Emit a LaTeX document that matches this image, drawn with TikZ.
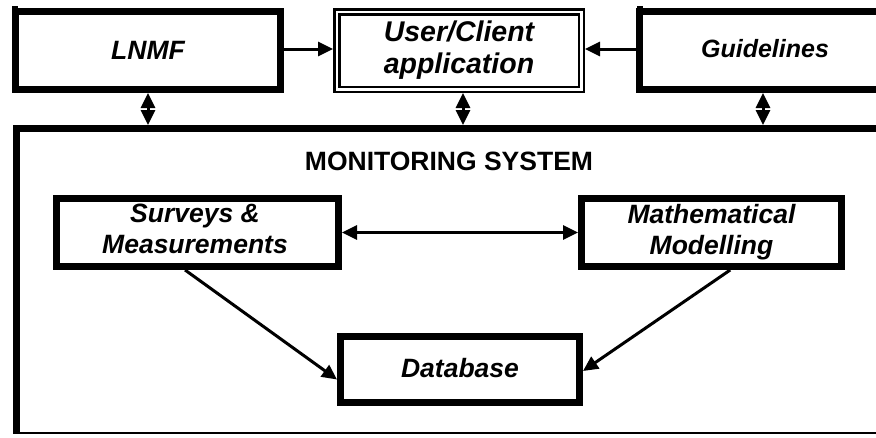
\documentclass[tikz,border=0pt]{standalone}
\usepackage{fontspec}
\setmainfont{Liberation Sans}
\usetikzlibrary{arrows.meta,calc}

\tikzset{
  heavybox/.style={draw, line width=7pt, outer sep=3.5pt, inner sep=0pt, fill=white},
  dblbox/.style={draw, line width=2.5pt, double, double distance=2.5pt, outer sep=3.75pt, inner sep=0pt},
  lbl/.style={inner sep=0pt, anchor=base, align=center,
              font=\fontsize{26.5}{31}\selectfont\bfseries\itshape},
  flow/.style={line width=3pt, -{Triangle[length=15pt,width=14pt]}},
  twoway/.style={line width=3pt, {Triangle[length=15pt,width=14pt]}-{Triangle[length=15pt,width=14pt]}}
}

\begin{document}
\begin{tikzpicture}[x=1pt, y=-1pt]
  \useasboundingbox (0,0) rectangle (876,437);
  \clip (0,0) rectangle (876,437);
  \fill[white] (0,0) rectangle (876,437);

  % outer frame of the monitoring system (open to the right)
  \node[minimum width=888pt, minimum height=309pt, inner sep=0pt, outer sep=0pt]
       (mon) at (456,279.5) {};
  \draw[line width=2.5pt] ($(mon.south west)+(4,-1.25)$) -- ($(mon.south east)+(0,-1.25)$);
  \draw[line width=7pt, line join=miter]
       ($(mon.north east)+(0,3.5)$) -- ($(mon.north west)+(4,3.5)$) -- ($(mon.south west)+(4,0)$);

  % top row
  \node[heavybox, minimum width=265pt, minimum height=78pt] (lnmf) at (148,50.5) {};
  \node[dblbox, minimum width=244.5pt, minimum height=77.5pt] (user) at (459,50.5) {};
  \node[heavybox, minimum width=277pt, minimum height=78pt] (guide) at (778,50.5) {};
  \fill (12,6) rectangle (18,9);
  \fill (636.5,6) rectangle (643,9);

  % multi-line labels are placed by the baseline of their last line
  \node[lbl] (lnmf-t) at (148,59) {LNMF};
  \node[lbl, font=\fontsize{28.5}{32}\selectfont\bfseries\itshape] (user-t) at (459,73) {User/Client\\application};
  \node[lbl, font=\fontsize{25}{31}\selectfont\bfseries\itshape] (guide-t) at (765,57.5) {Guidelines};

  % inner boxes
  \node[lbl, font=\fontsize{26.5}{31}\selectfont\bfseries] (mon-t) at (449,170) {MONITORING SYSTEM};
  \node[heavybox, minimum width=282pt, minimum height=68pt] (surv) at (197.5,232.5) {};
  \node[heavybox, minimum width=260pt, minimum height=68pt] (math) at (711.5,232.5) {};
  \node[heavybox, minimum width=239pt, minimum height=66pt] (db) at (460,369.5) {};

  \node[lbl] (surv-t) at (195,253) {Surveys \&\\Measurements};
  \node[lbl] (math-t) at (711.5,254.5) {Mathematical\\Modelling};
  \node[lbl] (db-t) at (460,377) {Database};

  % connectors
  \draw[flow] ([yshift=1.5pt]lnmf.east) -- ([yshift=1.5pt]lnmf.east -| user.west);
  \draw[flow] ([yshift=1.5pt]guide.west) -- ([yshift=1.5pt]guide.west -| user.east);

  \draw[twoway] (lnmf.south) -- (lnmf.south |- mon.north);
  \draw[twoway] ([xshift=4pt]user.south) -- ([xshift=4pt]user.south |- mon.north);
  \draw[twoway] ([xshift=-15pt]guide.south) -- ([xshift=-15pt]guide.south |- mon.north);

  \draw[twoway] (surv.east) -- (math.west);
  \draw[flow] ($(surv.south west)!0.457!(surv.south east)$) -- ([yshift=-10pt]db.west);
  \draw[flow] ($(math.south west)!0.57!(math.south east)$) -- ([yshift=-1.5pt]db.east);
\end{tikzpicture}
\end{document}
